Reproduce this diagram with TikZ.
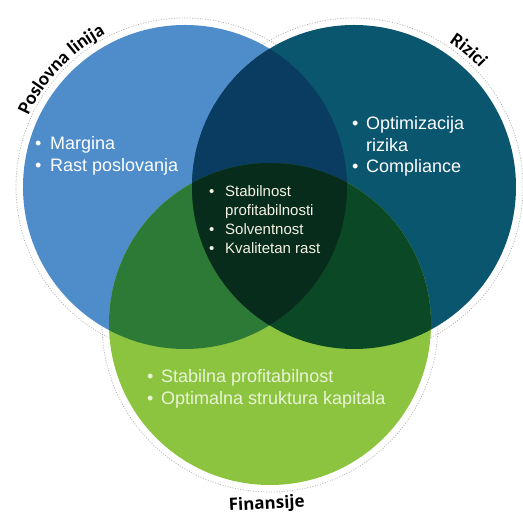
\documentclass[tikz,border=0pt]{standalone}
\usepackage{fontspec}
\setmainfont{Liberation Sans}
\newfontfamily\lblfamily{Carlito}
\newfontfamily\finfamily{Open Sans}
\usetikzlibrary{decorations.text}

% fills of the single circles and of their overlaps
\definecolor{cBlue}{RGB}{78,140,202}
\definecolor{cTeal}{RGB}{10,86,110}
\definecolor{cLime}{RGB}{140,196,64}
\definecolor{cNavy}{RGB}{10,60,98}
\definecolor{cGreen}{RGB}{44,122,54}
\definecolor{cDkGreen}{RGB}{11,72,38}
\definecolor{cDarkest}{RGB}{8,44,28}
\definecolor{cRing}{RGB}{180,172,172}
\definecolor{cCream}{RGB}{244,242,226}
\definecolor{cPale}{RGB}{232,244,214}

\newcommand\lbl{\lblfamily\bfseries\upshape\fontsize{19}{19}\selectfont}
\newlength\bulletw
\newcommand\itm[1]{\makebox[\bulletw][l]{\textbullet}#1}
\newcommand\cont[1]{\hspace*{\bulletw}#1}

\tikzset{
  ring/.style={draw=cRing, line width=0.7pt, dash pattern=on 1pt off 1.6pt},
  bigtxt/.style={inner sep=0pt, anchor=base west, text=white,
                 font=\fontsize{18}{21.5}\selectfont},
  smalltxt/.style={inner sep=0pt, anchor=base west, text=cCream,
                   font=\fontsize{15}{18.7}\selectfont},
  arclabel/.style={decorate, decoration={text along path, text align=center, text={|\lbl|#1}}}
}

\begin{document}
\begin{tikzpicture}[x=1pt,y=1pt]
\useasboundingbox (0,0) rectangle (523,516);

\coordinate (cL) at (185,329);
\coordinate (cR) at (354,329);
\coordinate (cB) at (270,192);

% dotted outer rings
\draw[ring] (cL) circle[radius=169pt];
\draw[ring] (cR) circle[radius=169pt];
\draw[ring] (cB) circle[radius=168pt];

% the three circles
\fill[cBlue] (cL) circle[radius=162pt];
\fill[cTeal] (cR) circle[radius=162pt];
\fill[cLime] (cB) circle[radius=161pt];

% pairwise and triple overlaps
\begin{scope}
  \clip (cL) circle[radius=162pt];
  \fill[cNavy] (cR) circle[radius=162pt];
  \fill[cGreen] (cB) circle[radius=161pt];
\end{scope}
\begin{scope}
  \clip (cR) circle[radius=162pt];
  \fill[cDkGreen] (cB) circle[radius=161pt];
  \clip (cL) circle[radius=162pt];
  \fill[cDarkest] (cB) circle[radius=161pt];
\end{scope}

% bullet texts
\setlength\bulletw{15pt}
\node[bigtxt] (posl) at (35,366)
  {\begin{tabular}[t]{@{}l@{}}\itm{Margina}\\ \itm{Rast poslovanja}\end{tabular}};
\setlength\bulletw{14pt}
\node[bigtxt] (riz) at (352,386)
  {\begin{tabular}[t]{@{}l@{}}\itm{Optimizacija}\\ \cont{rizika}\\ \itm{Compliance}\end{tabular}};
\setlength\bulletw{16pt}
\node[smalltxt] (core) at (209,319)
  {\begin{tabular}[t]{@{}l@{}}\itm{Stabilnost}\\ \cont{profitabilnosti}\\ \itm{Solventnost}\\ \itm{Kvalitetan rast}\end{tabular}};
\setlength\bulletw{14pt}
\node[bigtxt, text=cPale] (fin) at (147,133)
  {\begin{tabular}[t]{@{}l@{}}\itm{Stabilna profitabilnost}\\ \itm{Optimalna struktura kapitala}\end{tabular}};

% circle titles
\path[arclabel={Poslovna linija}] (cL) ++(162:172pt) arc[start angle=162, end angle=111, radius=172pt];
\path[arclabel={Rizici}] (cR) ++(70:173pt) arc[start angle=70, end angle=30, radius=173pt];
\node[inner sep=0pt, anchor=base, rotate=3,
      font=\finfamily\bfseries\fontsize{17}{17}\selectfont] (finlbl) at (267,7) {Finansije};
\end{tikzpicture}
\end{document}
